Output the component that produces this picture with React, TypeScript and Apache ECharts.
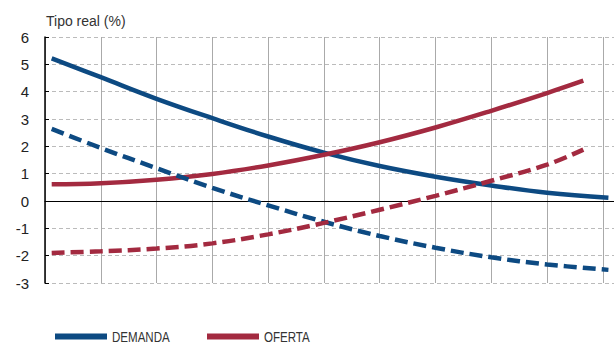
import React, { useEffect, useRef } from "react";
import * as echarts from "echarts";

// Horizontal positions (index scale, no labels shown) and real-rate values (%)
const xsDemanda = [0.12, 1, 2, 3, 4, 5, 6, 7, 8, 9, 10.1];
const demanda = [5.22, 4.53, 3.74, 3.03, 2.36, 1.77, 1.28, 0.89, 0.57, 0.3, 0.12];
const demandaBaja = [2.64, 1.94, 1.2, 0.48, -0.16, -0.76, -1.28, -1.71, -2.06, -2.32, -2.52];

const xsOferta = [0.12, 1, 2, 3, 4, 5, 6, 7, 8, 9, 9.65];
const oferta = [0.61, 0.65, 0.78, 0.99, 1.3, 1.69, 2.15, 2.69, 3.3, 3.95, 4.4];
const ofertaBaja = [-1.9, -1.84, -1.74, -1.55, -1.22, -0.8, -0.32, 0.19, 0.74, 1.33, 1.88];

const yTicks = { min: -3, max: 6, interval: 1 };
const legendItems = ["DEMANDA", "OFERTA"];

const BLUE = "#0d4a82";
const RED = "#a32a40";

const pairs = (x: number[], y: number[]) => y.map((v, i) => [x[i], v]);

export default function App() {
  const ref = useRef<HTMLDivElement>(null);
  useEffect(() => {
    const chart = echarts.init(ref.current!, undefined, { renderer: "svg" });
    const lineSeries = (name: string, data: number[][], color: string, dashed: boolean) => ({
      name,
      type: "line",
      data,
      smooth: 0.4,
      showSymbol: false,
      symbol: "none",
      lineStyle: { color, width: 4.5, type: dashed ? [13, 6] : "solid", cap: "butt" },
      itemStyle: { color },
      z: 3,
    });
    // Hand-drawn legend: a thick swatch followed by a condensed label
    const legendGraphics = legendItems.flatMap((label, i) => {
      const x0 = 55 + i * 152;
      const color = i === 0 ? BLUE : RED;
      return [
        { type: "rect", shape: { x: x0, y: 333.5, width: 52, height: 6 }, style: { fill: color } },
        {
          type: "text",
          x: x0 + 57,
          y: 329.5,
          scaleX: 0.77,
          style: {
            text: label,
            fontSize: 15,
            fontFamily: "Liberation Sans, Arial, sans-serif",
            fill: "#333",
            verticalAlign: "top",
          },
        },
      ];
    });
    chart.setOption({
      animation: false,
      textStyle: { fontFamily: "Liberation Sans, Arial, sans-serif" },
      title: {
        text: "Tipo real (%)",
        left: 41,
        top: 9,
        textStyle: { fontSize: 14, fontWeight: "normal", color: "#333" },
      },
      grid: { left: 45, right: 0, top: 37, bottom: 61 },
      graphic: legendGraphics,
      xAxis: {
        type: "value",
        min: 0,
        max: 10.2,
        interval: 1,
        axisLabel: { show: false },
        axisTick: { show: false },
        axisLine: { show: true, onZero: true, lineStyle: { color: "#000", width: 1 } },
        splitLine: { show: true, lineStyle: { color: "#aaa", width: 1, type: "solid" } },
      },
      yAxis: {
        type: "value",
        ...yTicks,
        axisLine: { show: true, lineStyle: { color: "#000", width: 1.5 } },
        axisTick: { show: true, inside: true, length: 4, lineStyle: { color: "#000" } },
        axisLabel: { fontSize: 15, color: "#222", margin: 16 },
        splitLine: { show: true, lineStyle: { color: "#bbb", width: 1, type: [4, 3] } },
      },
      series: [
        lineSeries("DEMANDA", pairs(xsDemanda, demanda), BLUE, false),
        lineSeries("OFERTA", pairs(xsOferta, oferta), RED, false),
        lineSeries("DEMANDA baja", pairs(xsDemanda, demandaBaja), BLUE, true),
        lineSeries("OFERTA baja", pairs(xsOferta, ofertaBaja), RED, true),
      ],
    });
    return () => chart.dispose();
  }, []);
  return <div ref={ref} style={{ width: 614, height: 344, position: "absolute", left: 0, top: 0 }} />;
}
